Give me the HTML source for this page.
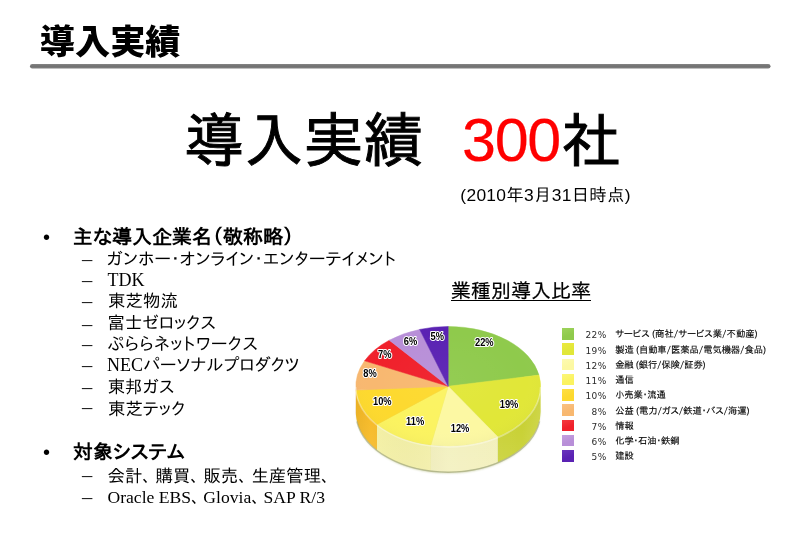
<!DOCTYPE html>
<html lang="ja">
<head>
<meta charset="utf-8">
<title>導入実績</title>
<style>
html,body{margin:0;padding:0;background:#fff;}
body{width:800px;height:550px;position:relative;overflow:hidden;color:#000;
 font-family:"Liberation Sans","IPAPGothic","IPAGothic","Noto Sans CJK JP",sans-serif;}
.abs{position:absolute;white-space:nowrap;line-height:1;}
#title{left:39.8px;top:24.4px;transform:scaleY(0.975);transform-origin:0 90%;font-size:35.2px;font-weight:900;font-family:"Liberation Sans","Noto Sans CJK JP",sans-serif;}
#rule{position:absolute;left:0;top:60px;}
#big{left:184.3px;top:110.9px;font-size:59.7px;-webkit-text-stroke:0.95px #000;}
#big .r{position:relative;top:-1.2px;color:#f00;-webkit-text-stroke:0.2px #f00;margin-left:5.9px;font-size:61px;letter-spacing:-1.3px;margin-right:1.2px}
#date{left:460.3px;top:186.6px;font-size:17.4px;letter-spacing:0.31px;}
.b1{font-size:20px;font-weight:bold;}
.dot{font-size:20px;}
.dash{font-family:"Liberation Serif",serif;font-size:20.5px;color:#111;}
.sub{font-size:17.4px;font-family:"Liberation Serif","IPAPGothic","IPAGothic","Noto Sans CJK JP",serif;}
.sub .c{margin-right:4.5px;}
.sub .l{font-size:18px;line-height:0;}
.sub .l2{font-size:17.6px;line-height:0;}
.sub .c2{margin-right:3.6px;}
#ctitle{left:451px;top:281px;font-size:20px;text-decoration:underline;text-decoration-thickness:1.3px;text-underline-offset:2.2px;-webkit-text-stroke:0.25px #000;}
.lg{position:absolute;left:562px;width:11.7px;height:11.5px;}
.lp{font-family:"DejaVu Sans","Liberation Sans",sans-serif;font-size:9px;color:#2a2a2a;text-align:right;width:30px;left:576.5px;letter-spacing:0.3px;}
.ll{font-family:"IPAPGothic","IPAGothic","Noto Sans CJK JP",sans-serif;font-size:9.33px;color:#000;left:615.2px;-webkit-text-stroke:0.12px #000;}
</style>
</head>
<body>
<div id="title" class="abs">導入実績</div>
<svg id="rule" width="800" height="10" viewBox="0 0 800 10"><defs><linearGradient id="rg" x1="0" y1="0" x2="0" y2="1"><stop offset="0" stop-color="#858585"/><stop offset="0.5" stop-color="#717171"/><stop offset="1" stop-color="#808080"/></linearGradient></defs><rect x="30" y="3.95" width="740.5" height="4.5" rx="2.25" fill="url(#rg)"/></svg>
<div id="big" class="abs">導入実績&nbsp; <span class="r">300</span>社</div>
<div id="date" class="abs">(2010年3月31日時点)</div>

<div class="abs dot" style="left:43.1px;top:226.5px;">•</div>
<div class="abs b1" style="left:73px;top:227px;">主な導入企業名（敬称略）</div>
<div class="abs dash" style="left:82.1px;top:249px;">–</div><div class="abs sub" style="left:106.6px;top:250.50px;letter-spacing:0.22px;">ガンホー・オンライン・エンターテイメント</div>
<div class="abs dash" style="left:82.1px;top:270px;">–</div><div class="abs sub" style="left:107.6px;top:272.20px;letter-spacing:0px;"><span class="l">TDK</span></div>
<div class="abs dash" style="left:82.1px;top:291px;">–</div><div class="abs sub" style="left:108.0px;top:292.80px;letter-spacing:0.1px;">東芝物流</div>
<div class="abs dash" style="left:82.1px;top:314px;">–</div><div class="abs sub" style="left:107.5px;top:314.50px;letter-spacing:0px;">富士ゼロックス</div>
<div class="abs dash" style="left:82.1px;top:334px;">–</div><div class="abs sub" style="left:107.5px;top:336.20px;letter-spacing:0.5px;">ぷららネットワークス</div>
<div class="abs dash" style="left:82.1px;top:355px;">–</div><div class="abs sub" style="left:107.0px;top:356.60px;letter-spacing:0.05px;"><span class="l">NEC</span>パーソナルプロダクツ</div>
<div class="abs dash" style="left:82.1px;top:377px;">–</div><div class="abs sub" style="left:107.7px;top:379.00px;letter-spacing:0px;">東邦ガス</div>
<div class="abs dash" style="left:82.1px;top:397px;">–</div><div class="abs sub" style="left:107.9px;top:400.50px;letter-spacing:0.1px;">東芝テック</div>
<div class="abs dot" style="left:43.1px;top:441.5px;">•</div>
<div class="abs b1" style="left:73px;top:442px;">対象システム</div>
<div class="abs dash" style="left:82.1px;top:465px;">–</div><div class="abs sub" style="left:107.5px;top:467.50px;letter-spacing:0px;">会計<span class="c">、</span>購買<span class="c">、</span>販売<span class="c">、</span>生産管理<span class="c">、</span></div>
<div class="abs dash" style="left:82.1px;top:487px;">–</div><div class="abs sub" style="left:107.5px;top:488.80px;letter-spacing:0px;"><span class="l2">Oracle EBS</span><span class="c2">、</span><span class="l2">Glovia</span><span class="c2">、</span><span class="l2">SAP R/3</span></div>
<div id="ctitle" class="abs">業種別導入比率</div>
<svg id="pie" width="800" height="550" viewBox="0 0 800 550" style="position:absolute;left:0;top:0;">
<defs>
<radialGradient id="hl" cx="50%" cy="45%" r="60%"><stop offset="0" stop-color="#fff" stop-opacity="0.04"/><stop offset="0.7" stop-color="#fff" stop-opacity="0"/><stop offset="1" stop-color="#000" stop-opacity="0.04"/></radialGradient>
<linearGradient id="sd" x1="0" y1="0" x2="1" y2="0"><stop offset="0" stop-color="#000" stop-opacity="0.05"/><stop offset="0.08" stop-color="#000" stop-opacity="0"/><stop offset="0.5" stop-color="#fff" stop-opacity="0.10"/><stop offset="0.9" stop-color="#fff" stop-opacity="0"/><stop offset="1" stop-color="#fff" stop-opacity="0.12"/></linearGradient>
<linearGradient id="sv" x1="0" y1="0" x2="0" y2="1"><stop offset="0" stop-color="#fff" stop-opacity="0"/><stop offset="1" stop-color="#fff" stop-opacity="0.14"/></linearGradient>
<filter id="bl" x="-10%" y="-10%" width="120%" height="120%"><feGaussianBlur stdDeviation="1.2"/></filter>
<filter id="bl2" x="-10%" y="-50%" width="120%" height="200%"><feGaussianBlur stdDeviation="0.6"/></filter>
</defs>
<ellipse cx="448.2" cy="413.3" rx="91.4" ry="59.8" fill="#b9c08a" opacity="0.8" filter="url(#bl)"/>
<path d="M540.60,386.30 A92.4,59.8 0 0 1 497.71,436.79 L497.71,462.29 A92.4,59.8 0 0 0 540.60,411.80 Z" fill="#c5ce27"/>
<path d="M497.71,436.79 A92.4,59.8 0 0 1 430.89,445.04 L430.89,470.54 A92.4,59.8 0 0 0 497.71,462.29 Z" fill="#f1eeb4"/>
<path d="M430.89,445.04 A92.4,59.8 0 0 1 377.00,424.42 L377.00,449.92 A92.4,59.8 0 0 0 430.89,470.54 Z" fill="#f5f1a0"/>
<path d="M377.00,424.42 A92.4,59.8 0 0 1 355.98,390.05 L355.98,415.55 A92.4,59.8 0 0 0 377.00,449.92 Z" fill="#f6b81f"/>
<path d="M355.98,390.05 A92.4,59.8 0 0 1 355.80,386.30 L355.80,411.80 A92.4,59.8 0 0 0 355.98,415.55 Z" fill="#e0a05a"/>
<path d="M539.56,421.34 A92.4,59.8 0 0 1 356.84,421.34" fill="none" stroke="#9a9f6a" stroke-opacity="0.55" stroke-width="1.4" filter="url(#bl2)"/>
<path d="M540.60,386.30 A92.4,59.8 0 0 1 355.80,386.30 L355.80,411.80 A92.4,59.8 0 0 0 540.60,411.80 Z" fill="url(#sd)"/>
<path d="M540.60,386.30 A92.4,59.8 0 0 1 355.80,386.30 L355.80,411.80 A92.4,59.8 0 0 0 540.60,411.80 Z" fill="url(#sv)"/>
<path d="M448.2,386.3 L448.20,326.50 A92.4,59.8 0 0 1 538.96,375.09 Z" fill="#8fca4c" stroke="#8fca4c" stroke-width="0.5"/>
<path d="M448.2,386.3 L538.96,375.09 A92.4,59.8 0 0 1 497.71,436.79 Z" fill="#e1e738" stroke="#e1e738" stroke-width="0.5"/>
<path d="M448.2,386.3 L497.71,436.79 A92.4,59.8 0 0 1 430.89,445.04 Z" fill="#fcf8a2" stroke="#fcf8a2" stroke-width="0.5"/>
<path d="M448.2,386.3 L430.89,445.04 A92.4,59.8 0 0 1 377.00,424.42 Z" fill="#fbf360" stroke="#fbf360" stroke-width="0.5"/>
<path d="M448.2,386.3 L377.00,424.42 A92.4,59.8 0 0 1 355.98,390.05 Z" fill="#fdd92e" stroke="#fdd92e" stroke-width="0.5"/>
<path d="M448.2,386.3 L355.98,390.05 A92.4,59.8 0 0 1 364.59,360.84 Z" fill="#f8b870" stroke="#f8b870" stroke-width="0.5"/>
<path d="M448.2,386.3 L364.59,360.84 A92.4,59.8 0 0 1 389.30,340.22 Z" fill="#f0202b" stroke="#f0202b" stroke-width="0.5"/>
<path d="M448.2,386.3 L389.30,340.22 A92.4,59.8 0 0 1 419.65,329.43 Z" fill="#b88fd8" stroke="#b88fd8" stroke-width="0.5"/>
<path d="M448.2,386.3 L419.65,329.43 A92.4,59.8 0 0 1 448.20,326.50 Z" fill="#5a22b3" stroke="#5a22b3" stroke-width="0.5"/>
<ellipse cx="448.2" cy="386.3" rx="92.4" ry="59.8" fill="url(#hl)"/>
<path d="M540.60,387.10 A92.4,59.8 0 0 1 355.80,387.10" fill="none" stroke="#fff" stroke-opacity="0.35" stroke-width="1.6"/>
<g font-family="&quot;Liberation Sans&quot;,sans-serif" font-size="10" font-weight="bold" text-anchor="middle" fill="#000" stroke="#fff" stroke-width="2.2" stroke-linejoin="round" paint-order="stroke">
<text transform="translate(484.3,346.0) scale(0.93,1)">22%</text>
<text transform="translate(509.0,407.8) scale(0.93,1)">19%</text>
<text transform="translate(460.0,432.4) scale(0.93,1)">12%</text>
<text transform="translate(415.1,424.8) scale(0.93,1)">11%</text>
<text transform="translate(382.3,405.0) scale(0.93,1)">10%</text>
<text transform="translate(370.0,377.4) scale(0.93,1)">8%</text>
<text transform="translate(384.8,357.6) scale(0.93,1)">7%</text>
<text transform="translate(410.5,345.0) scale(0.93,1)">6%</text>
<text transform="translate(437.3,339.6) scale(0.93,1)">5%</text>
</g>
</svg>
<div class="lg" style="top:328.20px;background:linear-gradient(160deg,#9dd35c,#8fca4c 60%);"></div><div class="abs lp" style="top:331.30px;">22%</div><div class="abs ll" style="top:329.30px;letter-spacing:-0.025px;">サービス (商社/サービス業/不動産)</div>
<div class="lg" style="top:343.45px;background:linear-gradient(160deg,#ece93f,#e1e738 60%);"></div><div class="abs lp" style="top:346.55px;">19%</div><div class="abs ll" style="top:344.55px;letter-spacing:-0.127px;">製造 (自動車/医薬品/電気機器/食品)</div>
<div class="lg" style="top:358.70px;background:linear-gradient(160deg,#fdfab2,#fcf8a2 60%);"></div><div class="abs lp" style="top:361.80px;">12%</div><div class="abs ll" style="top:359.80px;letter-spacing:-0.184px;">金融 (銀行/保険/証券)</div>
<div class="lg" style="top:373.95px;background:linear-gradient(160deg,#fcf67a,#fbf360 60%);"></div><div class="abs lp" style="top:377.05px;">11%</div><div class="abs ll" style="top:375.05px;letter-spacing:0.000px;">通信</div>
<div class="lg" style="top:389.20px;background:linear-gradient(160deg,#fedf45,#fdd92e 60%);"></div><div class="abs lp" style="top:392.30px;">10%</div><div class="abs ll" style="top:390.30px;letter-spacing:-0.152px;">小売業・流通</div>
<div class="lg" style="top:404.45px;background:linear-gradient(160deg,#fac283,#f8b870 60%);"></div><div class="abs lp" style="top:407.55px;">8%</div><div class="abs ll" style="top:405.55px;letter-spacing:-0.123px;">公益 (電力/ガス/鉄道・バス/海運)</div>
<div class="lg" style="top:419.70px;background:linear-gradient(160deg,#f43a40,#f0202b 60%);"></div><div class="abs lp" style="top:422.80px;">7%</div><div class="abs ll" style="top:420.80px;letter-spacing:0.000px;">情報</div>
<div class="lg" style="top:434.95px;background:linear-gradient(160deg,#c4a0df,#b88fd8 60%);"></div><div class="abs lp" style="top:438.05px;">6%</div><div class="abs ll" style="top:436.05px;letter-spacing:-0.137px;">化学・石油・鉄鋼</div>
<div class="lg" style="top:450.20px;background:linear-gradient(160deg,#6a35bd,#5a22b3 60%);"></div><div class="abs lp" style="top:453.30px;">5%</div><div class="abs ll" style="top:451.30px;letter-spacing:0.000px;">建設</div>
</body>
</html>
